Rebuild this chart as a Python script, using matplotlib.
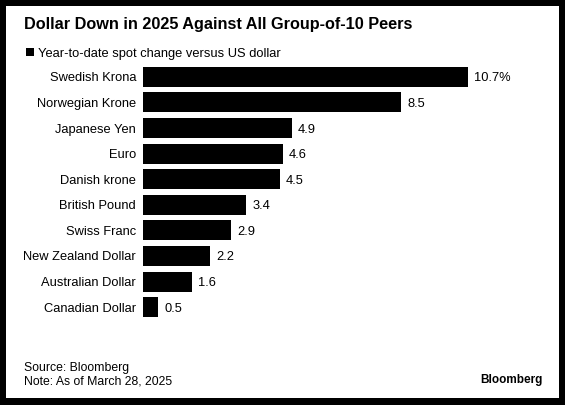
import numpy as np
import matplotlib.pyplot as plt
from matplotlib.patches import Rectangle

plt.rcParams['font.family'] = ['Liberation Sans', 'DejaVu Sans']

currencies = ['Swedish Krona', 'Norwegian Krone', 'Japanese Yen', 'Euro', 'Danish krone',
              'British Pound', 'Swiss Franc', 'New Zealand Dollar', 'Australian Dollar',
              'Canadian Dollar']
change = [10.7, 8.5, 4.9, 4.6, 4.5, 3.4, 2.9, 2.2, 1.6, 0.5]
value_labels = ['10.7%', '8.5', '4.9', '4.6', '4.5', '3.4', '2.9', '2.2', '1.6', '0.5']

title = 'Dollar Down in 2025 Against All Group-of-10 Peers'
legend_text = 'Year-to-date spot change versus US dollar'
source = 'Source: Bloomberg'
note = 'Note: As of March 28, 2025'

W, H = 565, 405
fig = plt.figure(figsize=(W / 100, H / 100), dpi=100, facecolor='black')
# white card inside the black frame
fig.patches.append(Rectangle((6 / W, 7 / H), 553 / W, 392 / H, transform=fig.transFigure,
                             facecolor='white', edgecolor='none', zorder=-10))

ax = fig.add_axes([143 / W, (H - 320) / H, 325 / W, 256 / H])
ax.set_zorder(5)
y = np.arange(len(currencies))
bars = ax.barh(y, change, height=0.78, color='black')
ax.set_ylim(len(currencies) - 0.5, -0.5)
ax.set_xlim(0, max(change))
ax.set_yticks(y, currencies)
ax.tick_params(axis='y', length=0, pad=5, labelsize=9.3)
ax.set_xticks([])
for s in ax.spines.values():
    s.set_visible(False)
ax.patch.set_alpha(0)
for t in ax.bar_label(bars, labels=value_labels, padding=4.5, fontsize=9.3, clip_on=False):
    t.set_va('center_baseline')

fig.text(24 / W, 1 - 25 / H, title, fontsize=11.7, fontweight='bold', va='center')
fig.patches.append(Rectangle((26 / W, 1 - 56 / H), 8 / W, 8 / H, transform=fig.transFigure,
                             facecolor='black', edgecolor='none'))
fig.text(38 / W, 1 - 52 / H, legend_text, fontsize=9.3, va='center_baseline')
fig.text(24 / W, 1 - 368 / H, source, fontsize=8.8, va='center')
fig.text(24 / W, 1 - 381 / H, note, fontsize=8.8, va='center')
fig.text(543 / W, 1 - 380 / H, 'Bloomberg', fontsize=8.5, fontweight='bold',
         ha='right', va='center')

fig.savefig('out.png', dpi=100, facecolor='black')
